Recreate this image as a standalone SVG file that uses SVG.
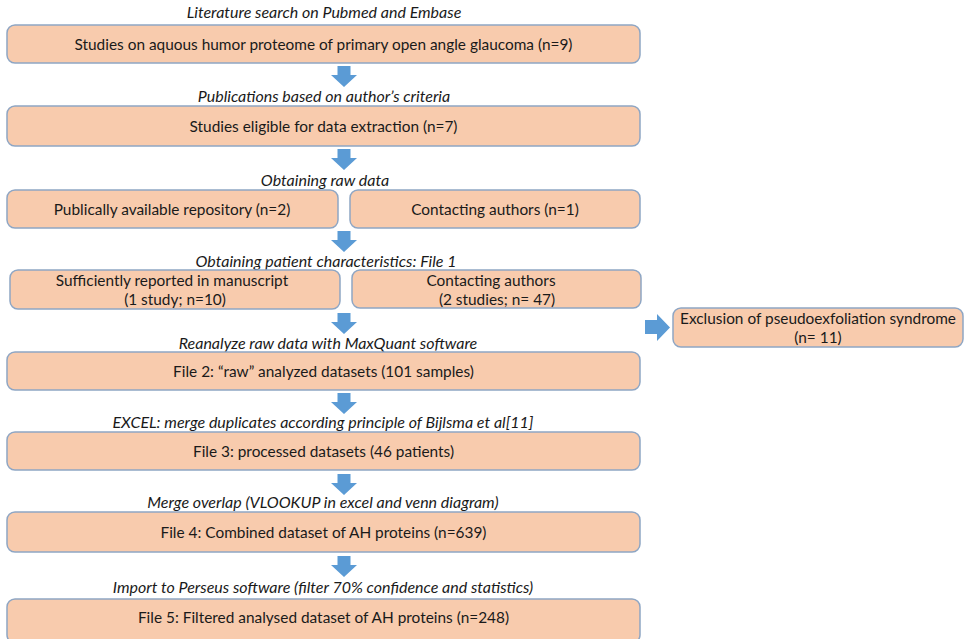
<svg xmlns="http://www.w3.org/2000/svg" width="965" height="639" viewBox="0 0 965 639">
<defs>
<style>
.box{fill:#f8cbad;stroke:#8ea6c4;stroke-width:1.5}
.t{font-family:Lato,"Liberation Sans",sans-serif;font-size:15.4px;fill:#1a1a1a;text-anchor:middle}
.lab{font-family:Lato,"Liberation Sans",sans-serif;font-size:16px;font-style:italic;fill:#1a1a1a;text-anchor:middle}
.arr{fill:#5b9bd5}
</style>
<path id="down" d="M-6.5,0 H6.5 V9 H13 L0,21 L-13,9 H-6.5 Z"/>
</defs>
<rect width="965" height="639" fill="#ffffff"/>
<g id="labels">
<text class="lab" x="324" y="18">Literature search on Pubmed and Embase</text>
<text class="lab" x="324" y="102">Publications based on author’s criteria</text>
<text class="lab" x="325" y="186">Obtaining raw data</text>
<text class="lab" x="326" y="267">Obtaining patient characteristics: File 1</text>
<text class="lab" x="328" y="349">Reanalyze raw data with MaxQuant software</text>
<text class="lab" x="323" y="428">EXCEL: merge duplicates according principle of Bijlsma et al[11]</text>
<text class="lab" x="323" y="508">Merge overlap (VLOOKUP in excel and venn diagram)</text>
<text class="lab" x="323" y="593">Import to Perseus software (filter 70% confidence and statistics)</text>
</g>
<g id="n1"><rect class="box" x="7" y="25" width="633" height="38" rx="8"/><text class="t" x="323.5" y="49.5">Studies on aquous humor proteome of primary open angle glaucoma (n=9)</text></g>
<g id="n2"><rect class="box" x="7" y="106" width="633" height="40" rx="8"/><text class="t" x="323.5" y="131.5">Studies eligible for data extraction (n=7)</text></g>
<g id="n3a"><rect class="box" x="7" y="190" width="331" height="38" rx="8"/><text class="t" x="172" y="214.5">Publically available repository (n=2)</text></g>
<g id="n3b"><rect class="box" x="350" y="190" width="290" height="38" rx="8"/><text class="t" x="495" y="214.5">Contacting authors (n=1)</text></g>
<g id="n4a"><rect class="box" x="10" y="270" width="330" height="39" rx="8"/><text class="t" x="172" y="286">Sufficiently reported in manuscript</text><text class="t" x="175" y="305">(1 study; n=10)</text></g>
<g id="n4b"><rect class="box" x="352" y="270" width="289" height="38" rx="8"/><text class="t" x="491" y="286">Contacting authors</text><text class="t" x="497" y="305">(2 studies; n= 47)</text></g>
<g id="nx"><rect class="box" x="673" y="308" width="290" height="39" rx="8"/><text class="t" x="818" y="324">Exclusion of pseudoexfoliation syndrome</text><text class="t" x="818" y="343">(n= 11)</text></g>
<g id="f2"><rect class="box" x="7" y="352" width="633" height="38" rx="8"/><text class="t" x="323.5" y="376.5">File 2: “raw” analyzed datasets (101 samples)</text></g>
<g id="f3"><rect class="box" x="7" y="432" width="633" height="38" rx="8"/><text class="t" x="323.5" y="456.5">File 3: processed datasets (46 patients)</text></g>
<g id="f4"><rect class="box" x="7" y="512" width="633" height="40" rx="8"/><text class="t" x="323.5" y="537.5">File 4: Combined dataset of AH proteins (n=639)</text></g>
<g id="f5"><rect class="box" x="7" y="599" width="633" height="44" rx="8"/><text class="t" x="323.5" y="623">File 5: Filtered analysed dataset of AH proteins (n=248)</text></g>
<g id="connectors" class="arr">
<use href="#down" x="344" y="66"/>
<use href="#down" x="344" y="149"/>
<use href="#down" x="344" y="231"/>
<use href="#down" x="344" y="313"/>
<use href="#down" x="344" y="393"/>
<use href="#down" x="344" y="474"/>
<use href="#down" x="344" y="556"/>
<path d="M645,320 H657 V314 L670,327.5 L657,341 V334 H645 Z"/>
</g>
</svg>
